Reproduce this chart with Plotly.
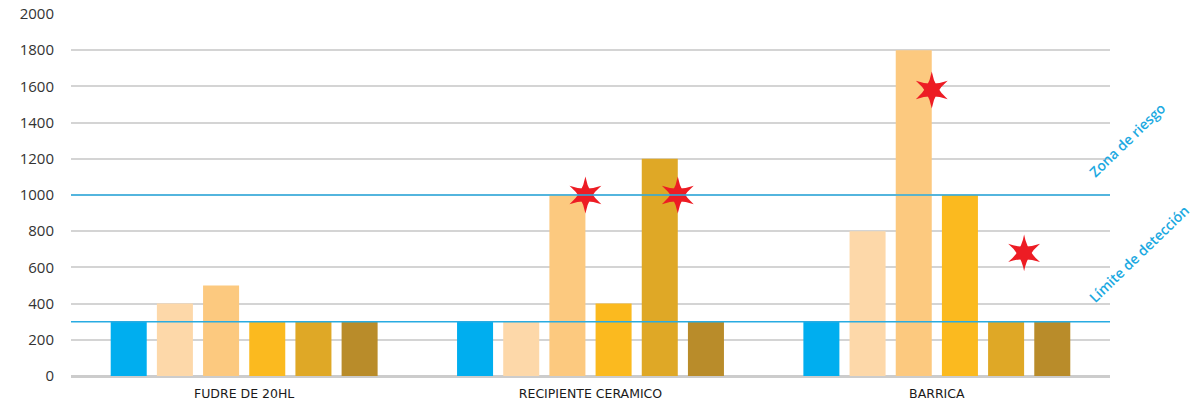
import plotly.graph_objects as go

categories = ["FUDRE DE 20HL", "RECIPIENTE CERAMICO", "BARRICA"]
series_names = ["Serie 1", "Serie 2", "Serie 3", "Serie 4", "Serie 5", "Serie 6"]
series_values = [
    [300, 300, 300],
    [400, 300, 800],
    [500, 1000, 1800],
    [300, 400, 1000],
    [300, 1200, 300],
    [300, 300, 300],
]
series_colors = ["#00AEEF", "#FDD8A9", "#FCC97F", "#FBBA1F", "#DFA826", "#B98C2A"]

# stars: category index, bar index, value
star_cat = [1, 1, 2, 2]
star_bar = [2, 4, 2, 4]
star_val = [1000, 1000, 1580, 680]

threshold_values = [300, 1000]
threshold_labels = ["Límite de detección", "Zona de riesgo"]
yticks = list(range(0, 2001, 200))

BARGAP = 0.2
BARGROUPGAP = 0.22

fig = go.Figure()
for name, vals, col in zip(series_names, series_values, series_colors):
    fig.add_trace(go.Bar(x=categories, y=vals, name=name, marker_color=col,
                         marker_line_width=0, showlegend=False))

# star positions at right edge of referenced bar (numeric overlay axis)
n = len(series_names)
slot = (1 - BARGAP) / n
bw = slot * (1 - BARGROUPGAP)
star_x = [c - (1 - BARGAP) / 2 + (b + 0.5) * slot + bw / 2 for c, b in zip(star_cat, star_bar)]
for sym in ["star-triangle-up", "star-triangle-down"]:
    fig.add_trace(go.Scatter(x=star_x, y=star_val, mode="markers", xaxis="x2",
                             marker=dict(symbol=sym, size=23, color="#ED1C24", line_width=0),
                             showlegend=False, hoverinfo="skip"))

for v in threshold_values:
    fig.add_shape(type="line", xref="paper", x0=0, x1=1, yref="y", y0=v, y1=v,
                  line=dict(color="#29ABE2", width=1.5), layer="above")

ann_font = dict(family="Open Sans, sans-serif", size=14, color="#1BA9E1", weight=600)
fig.add_annotation(xref="paper", yref="y", x=1.028, y=675,
                   text=threshold_labels[0], textangle=-44, showarrow=False,
                   font=ann_font, xanchor="center", yanchor="middle")
fig.add_annotation(xref="paper", yref="y", x=1.017, y=1304,
                   text=threshold_labels[1], textangle=-44, showarrow=False,
                   font=ann_font, xanchor="center", yanchor="middle")

fig.update_layout(
    width=1195, height=400,
    margin=dict(l=71, r=85, t=14, b=24),
    paper_bgcolor="white", plot_bgcolor="white",
    barmode="group", bargap=BARGAP, bargroupgap=BARGROUPGAP,
    font=dict(family="Open Sans, sans-serif", color="#333333"),
    xaxis=dict(type="category", showgrid=False, showline=False, ticks="", automargin=False,
               ticklabelstandoff=8,
               tickfont=dict(family="DejaVu Sans, sans-serif", size=12.5, color="#1a1a1a")),
    xaxis2=dict(overlaying="x", range=[-0.5, 2.5], visible=False, showgrid=False),
    yaxis=dict(range=[0, 2000], tickvals=yticks, showgrid=True, gridcolor="#D4D4D4",
               gridwidth=1.5, zeroline=True, zerolinecolor="#CCCCCC", zerolinewidth=2.5,
               automargin=False,
               tickfont=dict(size=15, color="#333333"), ticklabelstandoff=16, ticks=""),
)

fig.write_html("out.html")
